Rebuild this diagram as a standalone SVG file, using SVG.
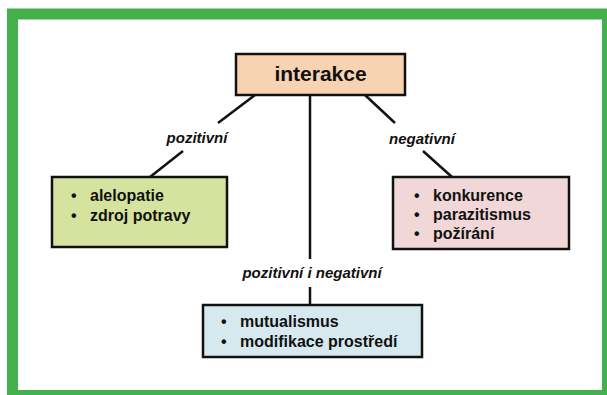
<svg xmlns="http://www.w3.org/2000/svg" width="607" height="395" viewBox="0 0 607 395">
<style>
.box{stroke:#111;stroke-width:2.5}
.t{font-family:"Liberation Sans",Arial,sans-serif;font-weight:bold;fill:#111}
.item{font-size:16px}
.lbl{font-size:15px;font-style:italic;text-anchor:middle}
.con{stroke:#111;stroke-width:2.5;fill:none}
</style>
<rect x="0" y="0" width="607" height="395" fill="#fff"/>
<rect x="12.5" y="14" width="595" height="381.5" fill="#fff" stroke="#43b04b" stroke-width="11"/>
<g id="connectors">
<line class="con" x1="255" y1="95" x2="218" y2="123"/>
<line class="con" x1="183" y1="151" x2="150" y2="177"/>
<line class="con" x1="365" y1="95" x2="395" y2="123"/>
<line class="con" x1="423" y1="151" x2="452" y2="177"/>
<line class="con" x1="310" y1="95" x2="310" y2="259"/>
<line class="con" x1="310" y1="287" x2="310" y2="305"/>
<text class="t lbl" x="197" y="143">pozitivní</text>
<text class="t lbl" x="422" y="144">negativní</text>
<text class="t lbl" x="312" y="278">pozitivní i negativní</text>
</g>
<g id="interakce">
<rect class="box" x="236" y="54" width="169" height="41" fill="#f8d3b2"/>
<text class="t" x="320.5" y="81" font-size="21" text-anchor="middle">interakce</text>
</g>
<g id="pozitivni">
<rect class="box" x="52" y="177" width="175" height="70" fill="#d5e39e"/>
<text class="t item" x="71" y="201">•</text>
<text class="t item" x="90" y="201">alelopatie</text>
<text class="t item" x="71" y="221">•</text>
<text class="t item" x="90" y="221">zdroj potravy</text>
</g>
<g id="negativni">
<rect class="box" x="393" y="177" width="176" height="72" fill="#f1d7d7"/>
<text class="t item" x="414" y="201">•</text>
<text class="t item" x="433" y="201">konkurence</text>
<text class="t item" x="414" y="220">•</text>
<text class="t item" x="433" y="220">parazitismus</text>
<text class="t item" x="414" y="239">•</text>
<text class="t item" x="433" y="239">požírání</text>
</g>
<g id="oboji">
<rect class="box" x="203" y="305" width="219" height="52" fill="#d5e9ef"/>
<text class="t item" x="221" y="327">•</text>
<text class="t item" x="240" y="327">mutualismus</text>
<text class="t item" x="221" y="347">•</text>
<text class="t item" x="240" y="347">modifikace prostředí</text>
</g>
</svg>
